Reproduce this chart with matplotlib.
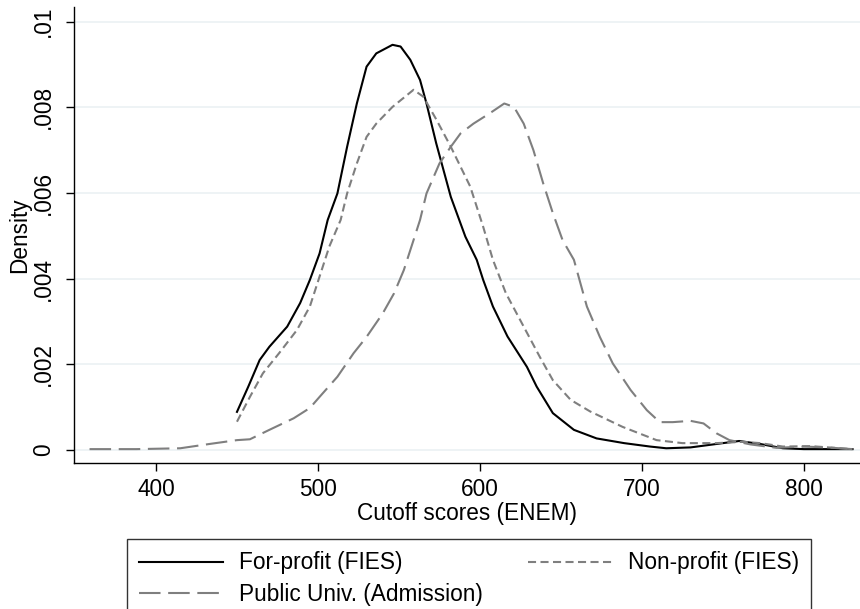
import numpy as np
import matplotlib
matplotlib.use("Agg")
import matplotlib.pyplot as plt

plt.rcParams['font.family'] = ['Liberation Sans', 'DejaVu Sans']
plt.rcParams['lines.scale_dashes'] = False

# kernel density estimates of cutoff scores (density in units of 1e-3)
x_forprofit = [450, 457, 464, 470, 481, 489, 495, 501, 506, 512, 518, 524, 530, 536,
               546, 551, 557, 563, 567, 573, 582, 591, 598, 602, 608, 617, 629, 635,
               645, 658, 672, 689, 705, 715, 730, 746, 760, 773, 787, 800, 830]
d_forprofit = [0.89, 1.48, 2.10, 2.41, 2.88, 3.43, 3.97, 4.59, 5.37, 5.99, 7.08, 8.09,
               8.95, 9.26, 9.46, 9.42, 9.11, 8.64, 8.09, 7.16, 5.91, 4.98, 4.44, 3.97,
               3.35, 2.65, 1.94, 1.48, 0.86, 0.47, 0.27, 0.16, 0.08, 0.04, 0.06, 0.14,
               0.21, 0.14, 0.04, 0.02, 0.02]

x_nonprofit = [450, 458, 466, 476, 487, 495, 501, 507, 514, 518, 524, 530, 536, 546,
               559, 565, 573, 582, 594, 602, 608, 616, 627, 637, 645, 656, 668, 688,
               709, 725, 746, 762, 773, 787, 804, 830]
d_nonprofit = [0.66, 1.24, 1.79, 2.26, 2.80, 3.35, 4.05, 4.75, 5.37, 5.99, 6.69, 7.31,
               7.62, 8.01, 8.41, 8.25, 7.72, 7.08, 6.15, 5.21, 4.44, 3.66, 2.88, 2.17,
               1.63, 1.17, 0.90, 0.54, 0.23, 0.16, 0.16, 0.19, 0.16, 0.08, 0.09, 0.02]

x_public = [359, 388, 415, 433, 450, 458, 470, 485, 495, 501, 512, 522, 530, 540, 547,
            553, 559, 563, 567, 575, 582, 588, 596, 606, 615, 621, 627, 633, 639, 645,
            651, 658, 666, 674, 682, 693, 703, 711, 719, 730, 738, 746, 754, 767, 783,
            800, 814, 830]
d_public = [0.02, 0.02, 0.04, 0.14, 0.23, 0.25, 0.47, 0.74, 0.98, 1.24, 1.71, 2.26,
            2.64, 3.19, 3.66, 4.20, 4.90, 5.37, 5.99, 6.69, 7.08, 7.39, 7.62, 7.86, 8.09,
            8.01, 7.62, 7.00, 6.23, 5.53, 4.90, 4.44, 3.35, 2.64, 2.02, 1.40, 0.93, 0.65,
            0.65, 0.68, 0.62, 0.39, 0.23, 0.13, 0.05, 0.08, 0.06, 0.02]

yticks = [0, 0.002, 0.004, 0.006, 0.008, 0.01]
ytick_labels = ['0', '.002', '.004', '.006', '.008', '.01']
xticks = [400, 500, 600, 700, 800]

fs = 16.3
W, H = 860, 609
fig = plt.figure(figsize=(W / 100, H / 100), dpi=100)
ax = fig.add_axes([74 / W, 146 / H, (W - 74) / W, (463 - 7) / H])

gray = '#7f7f7f'
l1, = ax.plot(x_forprofit, np.array(d_forprofit) / 1000, color='black', lw=1.5,
              label='For-profit (FIES)')
l2, = ax.plot(x_nonprofit, np.array(d_nonprofit) / 1000, color=gray, lw=1.5,
              linestyle=(0, (5.8, 3.2)), label='Non-profit (FIES)')
l3, = ax.plot(x_public, np.array(d_public) / 1000, color=gray, lw=1.5,
              linestyle=(0, (15.5, 5.5)), label='Public Univ. (Admission)')

ax.set_xlim(349.4, 834.6)
ax.set_ylim(-0.000304, 0.010343)

ax.set_yticks(yticks)
ax.set_yticklabels(ytick_labels, rotation=90, va='center', fontsize=fs)
ax.set_xticks(xticks)
ax.set_xticklabels([str(t) for t in xticks], fontsize=fs)
ax.tick_params(direction='out', length=5.5, width=1, color='black', pad=5)
ax.tick_params(axis='y', pad=8)

ax.grid(axis='y', color='#edf2f4', lw=1.3)
ax.set_axisbelow(True)
for s in ['top', 'right']:
    ax.spines[s].set_visible(False)
for s in ['left', 'bottom']:
    ax.spines[s].set_linewidth(1)

ax.set_xlabel('Cutoff scores (ENEM)', fontsize=fs, labelpad=1)
ax.set_ylabel('Density', fontsize=fs, labelpad=1)

# legend is filled column by column, so order the handles row-wise
leg = fig.legend([l1, l3, l2], [l1.get_label(), l3.get_label(), l2.get_label()],
                 loc='upper left', bbox_to_anchor=(127 / W, 1 - 539 / H),
                 ncol=2, fontsize=fs, frameon=True, fancybox=False,
                 edgecolor='black', handlelength=3.7, handletextpad=0.7,
                 columnspacing=2.0, labelspacing=0.37, borderpad=0.55,
                 borderaxespad=0)
leg.get_frame().set_linewidth(1)

fig.savefig('out.png', dpi=100)
